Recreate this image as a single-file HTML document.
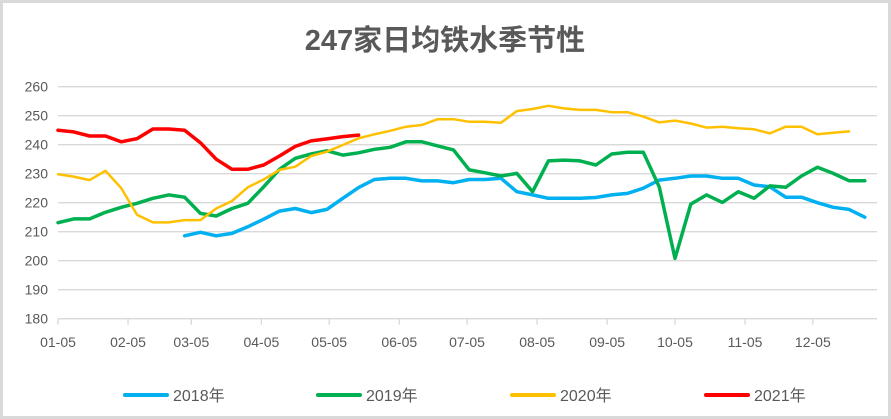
<!DOCTYPE html>
<html><head><meta charset="utf-8"><style>
html,body{margin:0;padding:0;background:#fff;}
#wrap{position:relative;width:891px;height:419px;box-sizing:border-box;border:3px solid #d9d9d9;background:#fff;overflow:hidden;}
svg{position:absolute;left:-3px;top:-3px;}
text{font-family:"Liberation Sans","Noto Sans CJK SC",sans-serif;fill:#595959;}
</style></head><body>
<div id="wrap">
<svg id="chart" width="891" height="419">
<text x="445" y="50" text-anchor="middle" font-size="29" font-weight="bold">247家日均铁水季节性</text>
<g id="grid"></g><g id="axes"></g><g id="series"></g><g id="legend"></g>
</svg>
</div>
<script>
const yTicks = [180,190,200,210,220,230,240,250,260];
const xTickLabels = ["01-05","02-05","03-05","04-05","05-05","06-05","07-05","08-05","09-05","10-05","11-05","12-05"];
const xTickDays = [5,36,64,95,125,156,186,217,248,278,309,339];
const seriesNames = ["2018年","2019年","2020年","2021年"];
const seriesColors = ["#00b0f0","#00b050","#ffc000","#ff0000"];
const s2018 = [null,null,null,null,null,null,null,null,208.6,209.8,208.6,209.4,211.7,214.3,217.1,218,216.6,217.7,221.5,225.2,228,228.4,228.4,227.5,227.5,226.9,228,228,228.4,223.8,222.7,221.5,221.5,221.5,221.8,222.7,223.2,225,227.8,228.4,229.2,229.2,228.4,228.4,226.1,225.5,221.9,221.9,220,218.4,217.7,215];
const s2019 = [213.1,214.4,214.4,216.7,218.4,219.8,221.5,222.7,221.9,216.3,215.4,218,219.8,225.5,231.5,235.3,236.8,237.9,236.4,237.2,238.4,239.1,241,241,239.6,238.2,231.3,230.3,229.2,230.1,223.8,234.4,234.7,234.4,233,236.8,237.4,237.4,225.5,200.8,219.5,222.7,220.1,223.8,221.5,225.8,225.3,229.2,232.2,230.1,227.6,227.6];
const s2020 = [229.8,229,227.8,231,225,215.8,213.2,213.2,214,214,218,220.6,225.3,228,231.3,232.4,236.1,237.6,239.9,242.2,243.6,244.8,246.2,246.8,248.8,248.8,247.9,247.9,247.6,251.6,252.3,253.4,252.5,252,252,251.2,251.2,249.7,247.7,248.3,247.3,245.9,246.2,245.7,245.3,243.9,246.2,246.2,243.6,244.1,244.6];
const s2021 = [245,244.4,243,243,241,242.1,245.4,245.4,245,240.7,235,231.5,231.5,233,236.1,239.4,241.3,242,242.8,243.3];

const NS="http://www.w3.org/2000/svg";
const X0=58, DAYPX=2.26, Y0=318.7, YPX=2.9;
const xDay = d => X0 + (d-5)*DAYPX;
const xWeek = i => xDay(5 + 7*i);
const yVal = v => Y0 - (v-180)*YPX;
function mk(tag, attrs, parent){const e=document.createElementNS(NS,tag);for(const k in attrs)e.setAttribute(k,attrs[k]);parent.appendChild(e);return e;}
const grid=document.getElementById('grid'), axes=document.getElementById('axes'), ser=document.getElementById('series'), leg=document.getElementById('legend');
yTicks.forEach(v=>{
  const l=mk('line',{x1:X0,x2:877,y1:yVal(v),y2:yVal(v),stroke:'#d9d9d9','stroke-width':1.3},grid);
  
  
  const t=mk('text',{x:48,y:yVal(v)+5,'text-anchor':'end','font-size':14},axes);
  t.textContent=v;
  
  
});
xTickLabels.forEach((lab,i)=>{
  const x=xDay(xTickDays[i]);
  const tk=mk('line',{x1:x,x2:x,y1:Y0,y2:Y0+6,stroke:'#d9d9d9','stroke-width':1.3},axes);
  
  
  const t=mk('text',{x:x,y:347,'text-anchor':'middle','font-size':14},axes);
  t.textContent=lab;
  
  
});
[s2018,s2019,s2020,s2021].forEach((arr,si)=>{
  let d='',pen=false;
  arr.forEach((v,i)=>{ if(v==null){pen=false;return;} d+=(pen?'L':'M')+xWeek(i).toFixed(1)+' '+yVal(v).toFixed(1)+' '; pen=true;});
  const p=mk('path',{d:d,fill:'none',stroke:seriesColors[si],'stroke-width':si==2?2.5:3.5,'stroke-linejoin':'round','stroke-linecap':'round'},ser);
  
  
});
const legX=[125,318,512,706];
seriesNames.forEach((n,i)=>{
  const g=mk('g',{},leg);
  
  
  mk('line',{x1:legX[i],x2:legX[i]+42,y1:395,y2:395,stroke:seriesColors[i],'stroke-width':4,'stroke-linecap':'round'},g);
  const t=mk('text',{x:legX[i]+48,y:401,'font-size':16},g);
  t.textContent=n;
});
</script>
</body></html>
